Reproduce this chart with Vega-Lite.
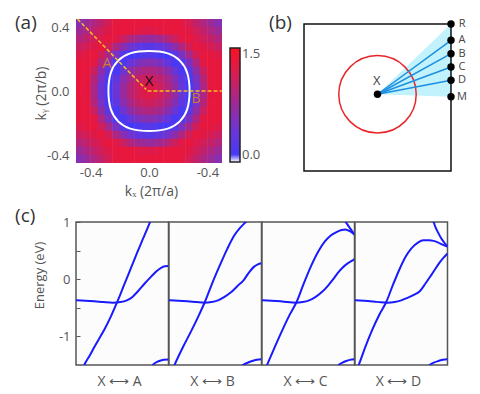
{
"$schema":"https://vega.github.io/schema/vega-lite/v6.json",
"padding":{"left":14,"top":13,"right":0,"bottom":0},
"background":"white",
"config":{"font":"Open Sans","view":{"stroke":null},"axis":{"grid":false,"labelColor":"#555","titleColor":"#555","labelFontSize":13,"titleFontSize":14,"titleFontWeight":"normal"}},
"datasets":{
"heat":[
{"x":-0.475,"y":0.425,"v":0.61},{"x":-0.425,"y":0.425,"v":0.75},{"x":-0.375,"y":0.425,"v":0.88},{"x":-0.325,"y":0.425,"v":1.01},{"x":-0.275,"y":0.425,"v":1.14},{"x":-0.225,"y":0.425,"v":1.28},{"x":-0.175,"y":0.425,"v":1.3},{"x":-0.125,"y":0.425,"v":1.3},{"x":-0.075,"y":0.425,"v":1.3},{"x":-0.025,"y":0.425,"v":1.3},{"x":0.025,"y":0.425,"v":1.3},{"x":0.075,"y":0.425,"v":1.3},{"x":0.125,"y":0.425,"v":1.3},{"x":0.175,"y":0.425,"v":1.3},{"x":0.225,"y":0.425,"v":1.28},{"x":0.275,"y":0.425,"v":1.14},{"x":0.325,"y":0.425,"v":1.01},{"x":0.375,"y":0.425,"v":0.88},{"x":0.425,"y":0.425,"v":0.75},{"x":0.475,"y":0.425,"v":0.61},
{"x":-0.475,"y":0.375,"v":0.76},{"x":-0.425,"y":0.375,"v":0.88},{"x":-0.375,"y":0.375,"v":1.00},{"x":-0.325,"y":0.375,"v":1.11},{"x":-0.275,"y":0.375,"v":1.23},{"x":-0.225,"y":0.375,"v":1.3},{"x":-0.175,"y":0.375,"v":1.3},{"x":-0.125,"y":0.375,"v":1.3},{"x":-0.075,"y":0.375,"v":1.26},{"x":-0.025,"y":0.375,"v":1.21},{"x":0.025,"y":0.375,"v":1.21},{"x":0.075,"y":0.375,"v":1.26},{"x":0.125,"y":0.375,"v":1.3},{"x":0.175,"y":0.375,"v":1.3},{"x":0.225,"y":0.375,"v":1.3},{"x":0.275,"y":0.375,"v":1.23},{"x":0.325,"y":0.375,"v":1.11},{"x":0.375,"y":0.375,"v":1.00},{"x":0.425,"y":0.375,"v":0.88},{"x":0.475,"y":0.375,"v":0.76},
{"x":-0.475,"y":0.325,"v":0.91},{"x":-0.425,"y":0.325,"v":1.01},{"x":-0.375,"y":0.325,"v":1.11},{"x":-0.325,"y":0.325,"v":1.21},{"x":-0.275,"y":0.325,"v":1.3},{"x":-0.225,"y":0.325,"v":1.24},{"x":-0.175,"y":0.325,"v":1.07},{"x":-0.125,"y":0.325,"v":0.90},{"x":-0.075,"y":0.325,"v":0.79},{"x":-0.025,"y":0.325,"v":0.73},{"x":0.025,"y":0.325,"v":0.73},{"x":0.075,"y":0.325,"v":0.79},{"x":0.125,"y":0.325,"v":0.90},{"x":0.175,"y":0.325,"v":1.07},{"x":0.225,"y":0.325,"v":1.24},{"x":0.275,"y":0.325,"v":1.3},{"x":0.325,"y":0.325,"v":1.21},{"x":0.375,"y":0.325,"v":1.11},{"x":0.425,"y":0.325,"v":1.01},{"x":0.475,"y":0.325,"v":0.91},
{"x":-0.475,"y":0.275,"v":1.06},{"x":-0.425,"y":0.275,"v":1.14},{"x":-0.375,"y":0.275,"v":1.23},{"x":-0.325,"y":0.275,"v":1.3},{"x":-0.275,"y":0.275,"v":1.11},{"x":-0.225,"y":0.275,"v":0.88},{"x":-0.175,"y":0.275,"v":0.64},{"x":-0.125,"y":0.275,"v":0.45},{"x":-0.075,"y":0.275,"v":0.32},{"x":-0.025,"y":0.275,"v":0.25},{"x":0.025,"y":0.275,"v":0.25},{"x":0.075,"y":0.275,"v":0.32},{"x":0.125,"y":0.275,"v":0.45},{"x":0.175,"y":0.275,"v":0.64},{"x":0.225,"y":0.275,"v":0.88},{"x":0.275,"y":0.275,"v":1.11},{"x":0.325,"y":0.275,"v":1.3},{"x":0.375,"y":0.275,"v":1.23},{"x":0.425,"y":0.275,"v":1.14},{"x":0.475,"y":0.275,"v":1.06},
{"x":-0.475,"y":0.225,"v":1.21},{"x":-0.425,"y":0.225,"v":1.28},{"x":-0.375,"y":0.225,"v":1.3},{"x":-0.325,"y":0.225,"v":1.11},{"x":-0.275,"y":0.225,"v":0.82},{"x":-0.225,"y":0.225,"v":0.51},{"x":-0.175,"y":0.225,"v":0.24},{"x":-0.125,"y":0.225,"v":0.06},{"x":-0.075,"y":0.225,"v":0.14},{"x":-0.025,"y":0.225,"v":0.22},{"x":0.025,"y":0.225,"v":0.22},{"x":0.075,"y":0.225,"v":0.14},{"x":0.125,"y":0.225,"v":0.06},{"x":0.175,"y":0.225,"v":0.24},{"x":0.225,"y":0.225,"v":0.51},{"x":0.275,"y":0.225,"v":0.82},{"x":0.325,"y":0.225,"v":1.11},{"x":0.375,"y":0.225,"v":1.3},{"x":0.425,"y":0.225,"v":1.28},{"x":0.475,"y":0.225,"v":1.21},
{"x":-0.475,"y":0.175,"v":1.3},{"x":-0.425,"y":0.175,"v":1.3},{"x":-0.375,"y":0.175,"v":1.26},{"x":-0.325,"y":0.175,"v":0.88},{"x":-0.275,"y":0.175,"v":0.52},{"x":-0.225,"y":0.175,"v":0.17},{"x":-0.175,"y":0.175,"v":0.13},{"x":-0.125,"y":0.175,"v":0.37},{"x":-0.075,"y":0.175,"v":0.52},{"x":-0.025,"y":0.175,"v":0.60},{"x":0.025,"y":0.175,"v":0.60},{"x":0.075,"y":0.175,"v":0.52},{"x":0.125,"y":0.175,"v":0.37},{"x":0.175,"y":0.175,"v":0.13},{"x":0.225,"y":0.175,"v":0.17},{"x":0.275,"y":0.175,"v":0.52},{"x":0.325,"y":0.175,"v":0.88},{"x":0.375,"y":0.175,"v":1.26},{"x":0.425,"y":0.175,"v":1.3},{"x":0.475,"y":0.175,"v":1.3},
{"x":-0.475,"y":0.125,"v":1.3},{"x":-0.425,"y":0.125,"v":1.3},{"x":-0.375,"y":0.125,"v":1.06},{"x":-0.325,"y":0.125,"v":0.66},{"x":-0.275,"y":0.125,"v":0.27},{"x":-0.225,"y":0.125,"v":0.11},{"x":-0.175,"y":0.125,"v":0.42},{"x":-0.125,"y":0.125,"v":0.66},{"x":-0.075,"y":0.125,"v":0.81},{"x":-0.025,"y":0.125,"v":0.89},{"x":0.025,"y":0.125,"v":0.89},{"x":0.075,"y":0.125,"v":0.81},{"x":0.125,"y":0.125,"v":0.66},{"x":0.175,"y":0.125,"v":0.42},{"x":0.225,"y":0.125,"v":0.11},{"x":0.275,"y":0.125,"v":0.27},{"x":0.325,"y":0.125,"v":0.66},{"x":0.375,"y":0.125,"v":1.06},{"x":0.425,"y":0.125,"v":1.3},{"x":0.475,"y":0.125,"v":1.3},
{"x":-0.475,"y":0.075,"v":1.3},{"x":-0.425,"y":0.075,"v":1.3},{"x":-0.375,"y":0.075,"v":0.93},{"x":-0.325,"y":0.075,"v":0.51},{"x":-0.275,"y":0.075,"v":0.09},{"x":-0.225,"y":0.075,"v":0.30},{"x":-0.175,"y":0.075,"v":0.61},{"x":-0.125,"y":0.075,"v":0.85},{"x":-0.075,"y":0.075,"v":1.00},{"x":-0.025,"y":0.075,"v":1.08},{"x":0.025,"y":0.075,"v":1.08},{"x":0.075,"y":0.075,"v":1.00},{"x":0.125,"y":0.075,"v":0.85},{"x":0.175,"y":0.075,"v":0.61},{"x":0.225,"y":0.075,"v":0.30},{"x":0.275,"y":0.075,"v":0.09},{"x":0.325,"y":0.075,"v":0.51},{"x":0.375,"y":0.075,"v":0.93},{"x":0.425,"y":0.075,"v":1.3},{"x":0.475,"y":0.075,"v":1.3},
{"x":-0.475,"y":0.025,"v":1.3},{"x":-0.425,"y":0.025,"v":1.29},{"x":-0.375,"y":0.025,"v":0.86},{"x":-0.325,"y":0.025,"v":0.43},{"x":-0.275,"y":0.025,"v":0.06},{"x":-0.225,"y":0.025,"v":0.40},{"x":-0.175,"y":0.025,"v":0.71},{"x":-0.125,"y":0.025,"v":0.94},{"x":-0.075,"y":0.025,"v":1.10},{"x":-0.025,"y":0.025,"v":1.22},{"x":0.025,"y":0.025,"v":1.22},{"x":0.075,"y":0.025,"v":1.10},{"x":0.125,"y":0.025,"v":0.94},{"x":0.175,"y":0.025,"v":0.71},{"x":0.225,"y":0.025,"v":0.40},{"x":0.275,"y":0.025,"v":0.06},{"x":0.325,"y":0.025,"v":0.43},{"x":0.375,"y":0.025,"v":0.86},{"x":0.425,"y":0.025,"v":1.29},{"x":0.475,"y":0.025,"v":1.3},
{"x":-0.475,"y":-0.025,"v":1.3},{"x":-0.425,"y":-0.025,"v":1.29},{"x":-0.375,"y":-0.025,"v":0.86},{"x":-0.325,"y":-0.025,"v":0.43},{"x":-0.275,"y":-0.025,"v":0.06},{"x":-0.225,"y":-0.025,"v":0.40},{"x":-0.175,"y":-0.025,"v":0.71},{"x":-0.125,"y":-0.025,"v":0.94},{"x":-0.075,"y":-0.025,"v":1.10},{"x":-0.025,"y":-0.025,"v":1.22},{"x":0.025,"y":-0.025,"v":1.22},{"x":0.075,"y":-0.025,"v":1.10},{"x":0.125,"y":-0.025,"v":0.94},{"x":0.175,"y":-0.025,"v":0.71},{"x":0.225,"y":-0.025,"v":0.40},{"x":0.275,"y":-0.025,"v":0.06},{"x":0.325,"y":-0.025,"v":0.43},{"x":0.375,"y":-0.025,"v":0.86},{"x":0.425,"y":-0.025,"v":1.29},{"x":0.475,"y":-0.025,"v":1.3},
{"x":-0.475,"y":-0.075,"v":1.3},{"x":-0.425,"y":-0.075,"v":1.3},{"x":-0.375,"y":-0.075,"v":0.93},{"x":-0.325,"y":-0.075,"v":0.51},{"x":-0.275,"y":-0.075,"v":0.09},{"x":-0.225,"y":-0.075,"v":0.30},{"x":-0.175,"y":-0.075,"v":0.61},{"x":-0.125,"y":-0.075,"v":0.85},{"x":-0.075,"y":-0.075,"v":1.00},{"x":-0.025,"y":-0.075,"v":1.08},{"x":0.025,"y":-0.075,"v":1.08},{"x":0.075,"y":-0.075,"v":1.00},{"x":0.125,"y":-0.075,"v":0.85},{"x":0.175,"y":-0.075,"v":0.61},{"x":0.225,"y":-0.075,"v":0.30},{"x":0.275,"y":-0.075,"v":0.09},{"x":0.325,"y":-0.075,"v":0.51},{"x":0.375,"y":-0.075,"v":0.93},{"x":0.425,"y":-0.075,"v":1.3},{"x":0.475,"y":-0.075,"v":1.3},
{"x":-0.475,"y":-0.125,"v":1.3},{"x":-0.425,"y":-0.125,"v":1.3},{"x":-0.375,"y":-0.125,"v":1.06},{"x":-0.325,"y":-0.125,"v":0.66},{"x":-0.275,"y":-0.125,"v":0.27},{"x":-0.225,"y":-0.125,"v":0.11},{"x":-0.175,"y":-0.125,"v":0.42},{"x":-0.125,"y":-0.125,"v":0.66},{"x":-0.075,"y":-0.125,"v":0.81},{"x":-0.025,"y":-0.125,"v":0.89},{"x":0.025,"y":-0.125,"v":0.89},{"x":0.075,"y":-0.125,"v":0.81},{"x":0.125,"y":-0.125,"v":0.66},{"x":0.175,"y":-0.125,"v":0.42},{"x":0.225,"y":-0.125,"v":0.11},{"x":0.275,"y":-0.125,"v":0.27},{"x":0.325,"y":-0.125,"v":0.66},{"x":0.375,"y":-0.125,"v":1.06},{"x":0.425,"y":-0.125,"v":1.3},{"x":0.475,"y":-0.125,"v":1.3},
{"x":-0.475,"y":-0.175,"v":1.3},{"x":-0.425,"y":-0.175,"v":1.3},{"x":-0.375,"y":-0.175,"v":1.26},{"x":-0.325,"y":-0.175,"v":0.88},{"x":-0.275,"y":-0.175,"v":0.52},{"x":-0.225,"y":-0.175,"v":0.17},{"x":-0.175,"y":-0.175,"v":0.13},{"x":-0.125,"y":-0.175,"v":0.37},{"x":-0.075,"y":-0.175,"v":0.52},{"x":-0.025,"y":-0.175,"v":0.60},{"x":0.025,"y":-0.175,"v":0.60},{"x":0.075,"y":-0.175,"v":0.52},{"x":0.125,"y":-0.175,"v":0.37},{"x":0.175,"y":-0.175,"v":0.13},{"x":0.225,"y":-0.175,"v":0.17},{"x":0.275,"y":-0.175,"v":0.52},{"x":0.325,"y":-0.175,"v":0.88},{"x":0.375,"y":-0.175,"v":1.26},{"x":0.425,"y":-0.175,"v":1.3},{"x":0.475,"y":-0.175,"v":1.3},
{"x":-0.475,"y":-0.225,"v":1.21},{"x":-0.425,"y":-0.225,"v":1.28},{"x":-0.375,"y":-0.225,"v":1.3},{"x":-0.325,"y":-0.225,"v":1.11},{"x":-0.275,"y":-0.225,"v":0.82},{"x":-0.225,"y":-0.225,"v":0.51},{"x":-0.175,"y":-0.225,"v":0.24},{"x":-0.125,"y":-0.225,"v":0.06},{"x":-0.075,"y":-0.225,"v":0.14},{"x":-0.025,"y":-0.225,"v":0.22},{"x":0.025,"y":-0.225,"v":0.22},{"x":0.075,"y":-0.225,"v":0.14},{"x":0.125,"y":-0.225,"v":0.06},{"x":0.175,"y":-0.225,"v":0.24},{"x":0.225,"y":-0.225,"v":0.51},{"x":0.275,"y":-0.225,"v":0.82},{"x":0.325,"y":-0.225,"v":1.11},{"x":0.375,"y":-0.225,"v":1.3},{"x":0.425,"y":-0.225,"v":1.28},{"x":0.475,"y":-0.225,"v":1.21},
{"x":-0.475,"y":-0.275,"v":1.06},{"x":-0.425,"y":-0.275,"v":1.14},{"x":-0.375,"y":-0.275,"v":1.23},{"x":-0.325,"y":-0.275,"v":1.3},{"x":-0.275,"y":-0.275,"v":1.11},{"x":-0.225,"y":-0.275,"v":0.88},{"x":-0.175,"y":-0.275,"v":0.64},{"x":-0.125,"y":-0.275,"v":0.45},{"x":-0.075,"y":-0.275,"v":0.32},{"x":-0.025,"y":-0.275,"v":0.25},{"x":0.025,"y":-0.275,"v":0.25},{"x":0.075,"y":-0.275,"v":0.32},{"x":0.125,"y":-0.275,"v":0.45},{"x":0.175,"y":-0.275,"v":0.64},{"x":0.225,"y":-0.275,"v":0.88},{"x":0.275,"y":-0.275,"v":1.11},{"x":0.325,"y":-0.275,"v":1.3},{"x":0.375,"y":-0.275,"v":1.23},{"x":0.425,"y":-0.275,"v":1.14},{"x":0.475,"y":-0.275,"v":1.06},
{"x":-0.475,"y":-0.325,"v":0.91},{"x":-0.425,"y":-0.325,"v":1.01},{"x":-0.375,"y":-0.325,"v":1.11},{"x":-0.325,"y":-0.325,"v":1.21},{"x":-0.275,"y":-0.325,"v":1.3},{"x":-0.225,"y":-0.325,"v":1.24},{"x":-0.175,"y":-0.325,"v":1.07},{"x":-0.125,"y":-0.325,"v":0.90},{"x":-0.075,"y":-0.325,"v":0.79},{"x":-0.025,"y":-0.325,"v":0.73},{"x":0.025,"y":-0.325,"v":0.73},{"x":0.075,"y":-0.325,"v":0.79},{"x":0.125,"y":-0.325,"v":0.90},{"x":0.175,"y":-0.325,"v":1.07},{"x":0.225,"y":-0.325,"v":1.24},{"x":0.275,"y":-0.325,"v":1.3},{"x":0.325,"y":-0.325,"v":1.21},{"x":0.375,"y":-0.325,"v":1.11},{"x":0.425,"y":-0.325,"v":1.01},{"x":0.475,"y":-0.325,"v":0.91},
{"x":-0.475,"y":-0.375,"v":0.76},{"x":-0.425,"y":-0.375,"v":0.88},{"x":-0.375,"y":-0.375,"v":1.00},{"x":-0.325,"y":-0.375,"v":1.11},{"x":-0.275,"y":-0.375,"v":1.23},{"x":-0.225,"y":-0.375,"v":1.3},{"x":-0.175,"y":-0.375,"v":1.3},{"x":-0.125,"y":-0.375,"v":1.3},{"x":-0.075,"y":-0.375,"v":1.26},{"x":-0.025,"y":-0.375,"v":1.21},{"x":0.025,"y":-0.375,"v":1.21},{"x":0.075,"y":-0.375,"v":1.26},{"x":0.125,"y":-0.375,"v":1.3},{"x":0.175,"y":-0.375,"v":1.3},{"x":0.225,"y":-0.375,"v":1.3},{"x":0.275,"y":-0.375,"v":1.23},{"x":0.325,"y":-0.375,"v":1.11},{"x":0.375,"y":-0.375,"v":1.00},{"x":0.425,"y":-0.375,"v":0.88},{"x":0.475,"y":-0.375,"v":0.76},
{"x":-0.475,"y":-0.425,"v":0.61},{"x":-0.425,"y":-0.425,"v":0.75},{"x":-0.375,"y":-0.425,"v":0.88},{"x":-0.325,"y":-0.425,"v":1.01},{"x":-0.275,"y":-0.425,"v":1.14},{"x":-0.225,"y":-0.425,"v":1.28},{"x":-0.175,"y":-0.425,"v":1.3},{"x":-0.125,"y":-0.425,"v":1.3},{"x":-0.075,"y":-0.425,"v":1.3},{"x":-0.025,"y":-0.425,"v":1.3},{"x":0.025,"y":-0.425,"v":1.3},{"x":0.075,"y":-0.425,"v":1.3},{"x":0.125,"y":-0.425,"v":1.3},{"x":0.175,"y":-0.425,"v":1.3},{"x":0.225,"y":-0.425,"v":1.28},{"x":0.275,"y":-0.425,"v":1.14},{"x":0.325,"y":-0.425,"v":1.01},{"x":0.375,"y":-0.425,"v":0.88},{"x":0.425,"y":-0.425,"v":0.75},{"x":0.475,"y":-0.425,"v":0.61}
],
"bands":[
{"p":"A","b":1,"k":0.08,"e":-1.54},{"p":"A","b":1,"k":0.09,"e":-1.5},{"p":"A","b":1,"k":0.15,"e":-1.33},{"p":"A","b":1,"k":0.2,"e":-1.18},{"p":"A","b":1,"k":0.25,"e":-1.04},{"p":"A","b":1,"k":0.31,"e":-0.87},{"p":"A","b":1,"k":0.38,"e":-0.64},{"p":"A","b":1,"k":0.45,"e":-0.38},{"p":"A","b":1,"k":0.52,"e":-0.1},{"p":"A","b":1,"k":0.6,"e":0.22},{"p":"A","b":1,"k":0.66,"e":0.46},{"p":"A","b":1,"k":0.72,"e":0.69},{"p":"A","b":1,"k":0.78,"e":0.92},{"p":"A","b":1,"k":0.8,"e":1.0},{"p":"A","b":1,"k":0.82,"e":1.08},
{"p":"A","b":2,"k":0,"e":-0.37},{"p":"A","b":2,"k":0.1,"e":-0.375},{"p":"A","b":2,"k":0.2,"e":-0.385},{"p":"A","b":2,"k":0.3,"e":-0.4},{"p":"A","b":2,"k":0.4,"e":-0.41},{"p":"A","b":2,"k":0.48,"e":-0.4},{"p":"A","b":2,"k":0.55,"e":-0.37},{"p":"A","b":2,"k":0.61,"e":-0.31},{"p":"A","b":2,"k":0.67,"e":-0.21},{"p":"A","b":2,"k":0.74,"e":-0.08},{"p":"A","b":2,"k":0.815,"e":0.05},{"p":"A","b":2,"k":0.87,"e":0.14},{"p":"A","b":2,"k":0.92,"e":0.2},{"p":"A","b":2,"k":0.96,"e":0.225},{"p":"A","b":2,"k":1,"e":0.23},
{"p":"A","b":3,"k":0.81,"e":-1.55},{"p":"A","b":3,"k":0.83,"e":-1.5},{"p":"A","b":3,"k":0.86,"e":-1.46},{"p":"A","b":3,"k":0.9,"e":-1.43},{"p":"A","b":3,"k":0.95,"e":-1.41},{"p":"A","b":3,"k":1,"e":-1.405},
{"p":"B","b":1,"k":0.05,"e":-1.54},{"p":"B","b":1,"k":0.06,"e":-1.5},{"p":"B","b":1,"k":0.15,"e":-1.19},{"p":"B","b":1,"k":0.245,"e":-0.89},{"p":"B","b":1,"k":0.32,"e":-0.64},{"p":"B","b":1,"k":0.39,"e":-0.39},{"p":"B","b":1,"k":0.47,"e":-0.06},{"p":"B","b":1,"k":0.56,"e":0.28},{"p":"B","b":1,"k":0.63,"e":0.53},{"p":"B","b":1,"k":0.7,"e":0.75},{"p":"B","b":1,"k":0.77,"e":0.9},{"p":"B","b":1,"k":0.83,"e":1.0},{"p":"B","b":1,"k":0.86,"e":1.05},
{"p":"B","b":2,"k":0,"e":-0.37},{"p":"B","b":2,"k":0.1,"e":-0.375},{"p":"B","b":2,"k":0.2,"e":-0.385},{"p":"B","b":2,"k":0.3,"e":-0.4},{"p":"B","b":2,"k":0.38,"e":-0.41},{"p":"B","b":2,"k":0.46,"e":-0.4},{"p":"B","b":2,"k":0.53,"e":-0.37},{"p":"B","b":2,"k":0.6,"e":-0.31},{"p":"B","b":2,"k":0.67,"e":-0.23},{"p":"B","b":2,"k":0.74,"e":-0.12},{"p":"B","b":2,"k":0.81,"e":-0.01},{"p":"B","b":2,"k":0.87,"e":0.13},{"p":"B","b":2,"k":0.92,"e":0.22},{"p":"B","b":2,"k":0.96,"e":0.26},{"p":"B","b":2,"k":1,"e":0.28},
{"p":"B","b":3,"k":0.78,"e":-1.55},{"p":"B","b":3,"k":0.8,"e":-1.5},{"p":"B","b":3,"k":0.85,"e":-1.46},{"p":"B","b":3,"k":0.9,"e":-1.43},{"p":"B","b":3,"k":0.95,"e":-1.41},{"p":"B","b":3,"k":1,"e":-1.4},
{"p":"C","b":1,"k":0.045,"e":-1.54},{"p":"C","b":1,"k":0.055,"e":-1.5},{"p":"C","b":1,"k":0.14,"e":-1.18},{"p":"C","b":1,"k":0.22,"e":-0.89},{"p":"C","b":1,"k":0.3,"e":-0.62},{"p":"C","b":1,"k":0.376,"e":-0.39},{"p":"C","b":1,"k":0.45,"e":-0.08},{"p":"C","b":1,"k":0.53,"e":0.23},{"p":"C","b":1,"k":0.61,"e":0.49},{"p":"C","b":1,"k":0.68,"e":0.66},{"p":"C","b":1,"k":0.74,"e":0.76},{"p":"C","b":1,"k":0.8,"e":0.82},{"p":"C","b":1,"k":0.86,"e":0.86},{"p":"C","b":1,"k":0.9,"e":0.87},{"p":"C","b":1,"k":0.95,"e":0.84},{"p":"C","b":1,"k":1,"e":0.78},
{"p":"C","b":4,"k":0.885,"e":1.05},{"p":"C","b":4,"k":0.905,"e":1.0},{"p":"C","b":4,"k":0.93,"e":0.94},{"p":"C","b":4,"k":0.96,"e":0.87},{"p":"C","b":4,"k":1,"e":0.78},
{"p":"C","b":2,"k":0,"e":-0.37},{"p":"C","b":2,"k":0.1,"e":-0.375},{"p":"C","b":2,"k":0.2,"e":-0.385},{"p":"C","b":2,"k":0.28,"e":-0.4},{"p":"C","b":2,"k":0.36,"e":-0.41},{"p":"C","b":2,"k":0.44,"e":-0.4},{"p":"C","b":2,"k":0.51,"e":-0.37},{"p":"C","b":2,"k":0.58,"e":-0.31},{"p":"C","b":2,"k":0.65,"e":-0.22},{"p":"C","b":2,"k":0.71,"e":-0.12},{"p":"C","b":2,"k":0.77,"e":0.0},{"p":"C","b":2,"k":0.82,"e":0.11},{"p":"C","b":2,"k":0.87,"e":0.2},{"p":"C","b":2,"k":0.93,"e":0.28},{"p":"C","b":2,"k":0.97,"e":0.32},{"p":"C","b":2,"k":1,"e":0.35},
{"p":"C","b":3,"k":0.81,"e":-1.55},{"p":"C","b":3,"k":0.83,"e":-1.5},{"p":"C","b":3,"k":0.87,"e":-1.46},{"p":"C","b":3,"k":0.91,"e":-1.43},{"p":"C","b":3,"k":0.95,"e":-1.41},{"p":"C","b":3,"k":1,"e":-1.4},
{"p":"D","b":1,"k":0.03,"e":-1.54},{"p":"D","b":1,"k":0.04,"e":-1.5},{"p":"D","b":1,"k":0.11,"e":-1.19},{"p":"D","b":1,"k":0.185,"e":-0.89},{"p":"D","b":1,"k":0.26,"e":-0.63},{"p":"D","b":1,"k":0.34,"e":-0.39},{"p":"D","b":1,"k":0.41,"e":-0.1},{"p":"D","b":1,"k":0.48,"e":0.17},{"p":"D","b":1,"k":0.55,"e":0.4},{"p":"D","b":1,"k":0.61,"e":0.54},{"p":"D","b":1,"k":0.68,"e":0.64},{"p":"D","b":1,"k":0.74,"e":0.68},{"p":"D","b":1,"k":0.8,"e":0.68},{"p":"D","b":1,"k":0.85,"e":0.67},{"p":"D","b":1,"k":0.9,"e":0.64},{"p":"D","b":1,"k":0.94,"e":0.61},{"p":"D","b":1,"k":1,"e":0.57},
{"p":"D","b":4,"k":0.835,"e":1.05},{"p":"D","b":4,"k":0.85,"e":1.0},{"p":"D","b":4,"k":0.87,"e":0.91},{"p":"D","b":4,"k":0.9,"e":0.81},{"p":"D","b":4,"k":0.93,"e":0.72},{"p":"D","b":4,"k":0.96,"e":0.65},{"p":"D","b":4,"k":1,"e":0.57},
{"p":"D","b":2,"k":0,"e":-0.37},{"p":"D","b":2,"k":0.1,"e":-0.375},{"p":"D","b":2,"k":0.2,"e":-0.39},{"p":"D","b":2,"k":0.28,"e":-0.405},{"p":"D","b":2,"k":0.35,"e":-0.41},{"p":"D","b":2,"k":0.43,"e":-0.4},{"p":"D","b":2,"k":0.5,"e":-0.37},{"p":"D","b":2,"k":0.56,"e":-0.33},{"p":"D","b":2,"k":0.63,"e":-0.28},{"p":"D","b":2,"k":0.7,"e":-0.21},{"p":"D","b":2,"k":0.76,"e":-0.08},{"p":"D","b":2,"k":0.815,"e":0.05},{"p":"D","b":2,"k":0.86,"e":0.16},{"p":"D","b":2,"k":0.91,"e":0.28},{"p":"D","b":2,"k":0.96,"e":0.38},{"p":"D","b":2,"k":1,"e":0.45},
{"p":"D","b":3,"k":0.79,"e":-1.55},{"p":"D","b":3,"k":0.81,"e":-1.5},{"p":"D","b":3,"k":0.85,"e":-1.46},{"p":"D","b":3,"k":0.9,"e":-1.43},{"p":"D","b":3,"k":0.95,"e":-1.41},{"p":"D","b":3,"k":1,"e":-1.4}
]
},
"spacing":8,
"vconcat":[
{"bounds":"flush","spacing":82,"hconcat":[
{
"width":146,"height":144,
"encoding":{
 "x":{"field":"x","type":"quantitative","scale":{"domain":[-0.5,0.5],"nice":false,"zero":false},
  "axis":{"values":[-0.4,0,0.4],"labelExpr":"datum.value < -0.1 ? '-0.4' : datum.value > 0.1 ? '-0.4' : '0.0'","ticks":false,"domain":false,"labelPadding":3,"title":"kₓ (2π/a)","titleX":75,"titleY":28,"titleBaseline":"middle"}},
 "y":{"field":"y","type":"quantitative","scale":{"domain":[-0.45,0.45],"nice":false,"zero":false},
  "axis":{"values":[-0.4,0,0.4],"labelExpr":"datum.value < -0.1 ? '-0.4' : datum.value > 0.1 ? '0.4' : '0.0'","ticks":false,"domain":false,"labelPadding":7,"title":"kᵧ (2π/b)","titleX":-35,"titleY":74,"titleAngle":270,"titleAlign":"center","titleBaseline":"middle"}}
},
"layer":[
{"data":{"name":"heat"},"mark":{"type":"rect","width":7.8,"height":8.6,"clip":true},
 "encoding":{"color":{"field":"v","type":"quantitative","scale":{"domain":[0,0.01,0.4,0.75,1.1,1.5],"range":["#ffffff","#3b3bff","#6a35d8","#9a2a98","#d01e5a","#ff1020"],"interpolate":"rgb","clamp":true},
  "legend":{"orient":"none","legendX":154,"legendY":29,"direction":"vertical","gradientLength":114,"gradientThickness":10,"gradientStrokeColor":"#222","gradientStrokeWidth":1.5,"values":[0,1.5],"labelExpr":"datum.value > 1 ? '1.5' : '0.0'","title":null,"labelFontSize":13,"labelColor":"#555","labelOffset":2}}}},
{"data":{"values":[{"o":0,"x":0.278,"y":0},{"o":1,"x":0.261,"y":0.116},{"o":2,"x":0.211,"y":0.19},{"o":3,"x":0.129,"y":0.235},{"o":4,"x":0,"y":0.25},{"o":5,"x":-0.129,"y":0.235},{"o":6,"x":-0.211,"y":0.19},{"o":7,"x":-0.261,"y":0.116},{"o":8,"x":-0.278,"y":0},{"o":9,"x":-0.261,"y":-0.116},{"o":10,"x":-0.211,"y":-0.19},{"o":11,"x":-0.129,"y":-0.235},{"o":12,"x":0,"y":-0.25},{"o":13,"x":0.129,"y":-0.235},{"o":14,"x":0.211,"y":-0.19},{"o":15,"x":0.261,"y":-0.116}]},
 "mark":{"type":"line","interpolate":"cardinal-closed","color":"white","strokeWidth":2},
 "encoding":{"order":{"field":"o","type":"quantitative"}}},
{"data":{"values":[{"s":1,"x":-0.49,"y":0.45},{"s":1,"x":-0.02,"y":0.01},{"s":2,"x":-0.01,"y":0.0},{"s":2,"x":0.5,"y":0.0}]},
 "mark":{"type":"line","color":"#f2c01e","strokeWidth":1.5,"strokeDash":[4,2]},
 "encoding":{"detail":{"field":"s"}}},
{"data":{"values":[{"x":-0.288,"y":0.169,"t":"A"},{"x":0.322,"y":-0.05,"t":"B"}]},
 "mark":{"type":"text","color":"#d57a2c","fontSize":14,"align":"center","baseline":"middle"},
 "encoding":{"text":{"field":"t"}}},
{"data":{"values":[{"x":0.0,"y":0.0625,"t":"X"}]},
 "mark":{"type":"text","color":"#111","fontSize":15,"align":"center","baseline":"middle"},
 "encoding":{"text":{"field":"t"}}},
{"data":{"values":[{"x":-0.918,"y":0.425,"t":"(a)"}]},
 "mark":{"type":"text","color":"#333","fontSize":19,"align":"left","baseline":"middle"},
 "encoding":{"text":{"field":"t"}}}
]
},
{
"width":147,"height":152,
"encoding":{
 "x":{"field":"x","type":"quantitative","scale":{"domain":[0,1],"nice":false,"zero":false},"axis":null},
 "y":{"field":"y","type":"quantitative","scale":{"domain":[0,1.034],"nice":false,"zero":false},"axis":null}
},
"layer":[
{"data":{"values":[{"x":0.5,"y":0.522,"y2":0.522},{"x":1,"y":1,"y2":0.505}]},
 "mark":{"type":"area","color":"#c2f2fb","opacity":1},
 "encoding":{"y2":{"field":"y2"}}},
{"data":{"values":[{"x":0,"x2":1,"y":0,"y2":1}]},
 "mark":{"type":"rect","fill":"transparent","stroke":"#111","strokeWidth":1.5},
 "encoding":{"x2":{"field":"x2"},"y2":{"field":"y2"}}},
{"data":{"values":[{"x":0.5,"y":0.522}]},
 "mark":{"type":"point","shape":"circle","size":6000,"filled":false,"stroke":"#e8262a","strokeWidth":1.5,"opacity":1}},
{"data":{"values":[{"x":0.5,"y":0.522,"x2":1,"y2":0.889},{"x":0.5,"y":0.522,"x2":1,"y2":0.798},{"x":0.5,"y":0.522,"x2":1,"y2":0.707},{"x":0.5,"y":0.522,"x2":1,"y2":0.617}]},
 "mark":{"type":"rule","color":"#1c8fe0","strokeWidth":1.5},
 "encoding":{"x2":{"field":"x2"},"y2":{"field":"y2"}}},
{"data":{"values":[{"x":0.5,"y":0.522},{"x":1,"y":1},{"x":1,"y":0.889},{"x":1,"y":0.798},{"x":1,"y":0.707},{"x":1,"y":0.617},{"x":1,"y":0.505}]},
 "mark":{"type":"point","shape":"circle","size":55,"filled":true,"color":"#000","opacity":1}},
{"data":{"values":[{"x":1.075,"y":1,"t":"R"},{"x":1.075,"y":0.889,"t":"A"},{"x":1.075,"y":0.798,"t":"B"},{"x":1.075,"y":0.707,"t":"C"},{"x":1.075,"y":0.617,"t":"D"},{"x":1.075,"y":0.505,"t":"M"}]},
 "mark":{"type":"text","color":"#444","fontSize":11,"align":"center","baseline":"middle"},
 "encoding":{"text":{"field":"t"}}},
{"data":{"values":[{"x":0.495,"y":0.612,"t":"X"}]},
 "mark":{"type":"text","color":"#444","fontSize":13,"align":"center","baseline":"middle"},
 "encoding":{"text":{"field":"t"}}},
{"data":{"values":[{"x":-0.16,"y":1.007,"t":"(b)"}]},
 "mark":{"type":"text","color":"#333","fontSize":19,"align":"center","baseline":"middle"},
 "encoding":{"text":{"field":"t"}}}
]
}
]},
{"bounds":"flush","spacing":0,"hconcat":[
{
"width":92.5,"height":143,
"view":{"stroke":"#555","strokeWidth":1.5,"fill":"#fcfcfc"},
"encoding":{
 "x":{"field":"k","type":"quantitative","scale":{"domain":[0,1],"nice":false,"zero":false},"axis":{"labels":false,"ticks":false,"domain":false,"title":"X  ⟷  A","titleFontSize":14,"titleY":16,"titleX":43,"titleBaseline":"middle"}},
 "y":{"field":"e","type":"quantitative","scale":{"domain":[-1.5,1],"nice":false,"zero":false},"axis":{"values":[-1,-0.5,0,0.5,1],"labelExpr":"datum.value == 1 ? '1' : datum.value == 0 ? '0' : datum.value == -1 ? '-1' : ''","domain":false,"tickSize":-4,"tickColor":"#555","labelPadding":10,"title":"Energy (eV)","titleFontSize":13,"titleX":-37,"titleY":53,"titleAngle":270,"titleAlign":"center","titleBaseline":"middle"}}
},
"layer":[
{"data":{"name":"bands"},"transform":[{"filter":"datum.p == 'A'"}],"mark":{"type":"line","color":"#1a1aff","strokeWidth":2,"clip":true,"interpolate":"monotone"},"encoding":{"detail":{"field":"b"}}},
{"data":{"values":[{"e":-0.37}]},"mark":{"type":"rule","color":"#ff3b3b","strokeWidth":1.5,"strokeDash":[5,3]}},
{"data":{"values":[{"k":-0.659,"e":1.105,"t":"(c)"}]},"mark":{"type":"text","color":"#333","fontSize":19,"align":"left","baseline":"middle"},"encoding":{"text":{"field":"t"}}}
]
},
{
"width":92.5,"height":143,
"view":{"stroke":"#555","strokeWidth":1.5,"fill":"#fcfcfc"},
"encoding":{
 "x":{"field":"k","type":"quantitative","scale":{"domain":[0,1],"nice":false,"zero":false},"axis":{"labels":false,"ticks":false,"domain":false,"title":"X  ⟷  B","titleFontSize":14,"titleY":16,"titleX":43,"titleBaseline":"middle"}},
 "y":{"field":"e","type":"quantitative","scale":{"domain":[-1.5,1],"nice":false,"zero":false},"axis":null}
},
"layer":[
{"data":{"name":"bands"},"transform":[{"filter":"datum.p == 'B'"}],"mark":{"type":"line","color":"#1a1aff","strokeWidth":2,"clip":true,"interpolate":"monotone"},"encoding":{"detail":{"field":"b"}}},
{"data":{"values":[{"e":-0.37}]},"mark":{"type":"rule","color":"#ff3b3b","strokeWidth":1.5,"strokeDash":[5,3]}}
]
},
{
"width":92.5,"height":143,
"view":{"stroke":"#555","strokeWidth":1.5,"fill":"#fcfcfc"},
"encoding":{
 "x":{"field":"k","type":"quantitative","scale":{"domain":[0,1],"nice":false,"zero":false},"axis":{"labels":false,"ticks":false,"domain":false,"title":"X  ⟷  C","titleFontSize":14,"titleY":16,"titleX":43,"titleBaseline":"middle"}},
 "y":{"field":"e","type":"quantitative","scale":{"domain":[-1.5,1],"nice":false,"zero":false},"axis":null}
},
"layer":[
{"data":{"name":"bands"},"transform":[{"filter":"datum.p == 'C'"}],"mark":{"type":"line","color":"#1a1aff","strokeWidth":2,"clip":true,"interpolate":"monotone"},"encoding":{"detail":{"field":"b"}}},
{"data":{"values":[{"e":-0.37}]},"mark":{"type":"rule","color":"#ff3b3b","strokeWidth":1.5,"strokeDash":[5,3]}}
]
},
{
"width":92.5,"height":143,
"view":{"stroke":"#555","strokeWidth":1.5,"fill":"#fcfcfc"},
"encoding":{
 "x":{"field":"k","type":"quantitative","scale":{"domain":[0,1],"nice":false,"zero":false},"axis":{"labels":false,"ticks":false,"domain":false,"title":"X  ⟷  D","titleFontSize":14,"titleY":16,"titleX":43,"titleBaseline":"middle"}},
 "y":{"field":"e","type":"quantitative","scale":{"domain":[-1.5,1],"nice":false,"zero":false},"axis":null}
},
"layer":[
{"data":{"name":"bands"},"transform":[{"filter":"datum.p == 'D'"}],"mark":{"type":"line","color":"#1a1aff","strokeWidth":2,"clip":true,"interpolate":"monotone"},"encoding":{"detail":{"field":"b"}}},
{"data":{"values":[{"e":-0.37}]},"mark":{"type":"rule","color":"#ff3b3b","strokeWidth":1.5,"strokeDash":[5,3]}}
]
}
]}
]
}
